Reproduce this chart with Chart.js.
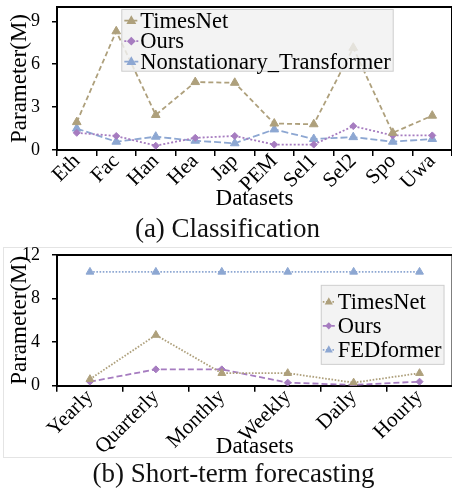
<!DOCTYPE html>
<html>
<head>
<meta charset="utf-8">
<script src="https://cdn.jsdelivr.net/npm/chart.js@4.4.1/dist/chart.umd.min.js"></script>
<style>
  html, body { margin: 0; padding: 0; background: #fff; overflow: hidden; }
  body { width: 452px; height: 495px; position: relative; font-family: 'Liberation Serif', 'Times New Roman', serif; }
  #c1 { position: absolute; left: 0; top: 0; }
  #frame { position: absolute; left: 3px; top: 247px; width: 470px; height: 209px; border: 1px solid #e4e4e4; }
  #c2 { position: absolute; left: 0; top: 244px; }
  .cap { position: absolute; left: 0; width: 455px; text-align: center; font-size: 27px; line-height: 27px; color: #111; white-space: nowrap; }
</style>
</head>
<body>
<canvas id="c1" width="458" height="214"></canvas>
<div class="cap" style="top:215px">(a) Classification</div>
<div id="frame"></div>
<canvas id="c2" width="458" height="218"></canvas>
<div class="cap" style="top:460px; left:6px">(b) Short-term forecasting</div>
<script>
// (a) classification
const catsA = ['Eth', 'Fac', 'Han', 'Hea', 'Jap', 'PEM', 'Sel1', 'Sel2', 'Spo', 'Uwa'];
const timesNetA = [1.95, 8.3, 2.45, 4.75, 4.7, 1.85, 1.8, 7.15, 1.2, 2.4];
const oursA = [1.2, 0.98, 0.3, 0.85, 0.98, 0.38, 0.38, 1.67, 1.02, 1.02];
const nonstatA = [1.5, 0.58, 0.93, 0.65, 0.47, 1.44, 0.77, 0.9, 0.58, 0.77];
const yTicksA = [0, 3, 6, 9];

// (b) short-term forecasting
const catsB = ['Yearly', 'Quarterly', 'Monthly', 'Weekly', 'Daily', 'Hourly'];
const timesNetB = [0.6, 4.65, 1.15, 1.15, 0.28, 1.15];
const oursB = [0.37, 1.5, 1.5, 0.28, 0.07, 0.37];
const fedB = [10.45, 10.45, 10.45, 10.45, 10.45, 10.45];
const yTicksB = [0, 4, 8, 12];

const SERIF = "'Liberation Serif', 'Times New Roman', serif";
const TAN = '#aea07c';
const PURPLE = '#a67cc0';
const BLUE = '#8da7d2';

// top + right edges of the axes box
const frameBox = {
  id: 'frameBox',
  beforeDatasetsDraw(chart) {
    const {ctx, chartArea: a} = chart;
    ctx.save();
    ctx.strokeStyle = '#000';
    ctx.lineWidth = 2;
    ctx.beginPath();
    ctx.moveTo(a.left, a.top);
    ctx.lineTo(a.right, a.top);
    ctx.lineTo(a.right, a.bottom);
    ctx.stroke();
    ctx.restore();
  }
};

function marker(ctx, style, x, y, r) {
  ctx.beginPath();
  if (style === 'triangle') {
    ctx.moveTo(x, y - r);
    ctx.lineTo(x + r * 0.9, y + r * 0.6);
    ctx.lineTo(x - r * 0.9, y + r * 0.6);
  } else {
    ctx.moveTo(x, y - r);
    ctx.lineTo(x + r, y);
    ctx.lineTo(x, y + r);
    ctx.lineTo(x - r, y);
  }
  ctx.closePath();
  ctx.fill();
}

// matplotlib-like legend box drawn over the plot
const boxLegend = {
  id: 'boxLegend',
  afterDatasetsDraw(chart, args, o) {
    const {ctx, chartArea: a} = chart;
    const sets = chart.data.datasets;
    ctx.save();
    ctx.font = o.font + 'px ' + SERIF;
    const tw = Math.max(...sets.map(d => ctx.measureText(d.label).width));
    const w = o.padL + tw + o.padR;
    const h = o.padT + o.rowH * (sets.length - 1) + o.padB;
    const x = o.align === 'right' ? a.right - o.dx - w : (a.left + a.right) / 2 - w / 2 + o.dx;
    const y = o.valign === 'middle' ? (a.top + a.bottom) / 2 - h / 2 + o.dy : a.top + o.dy;
    ctx.fillStyle = 'rgba(240,240,240,0.82)';
    ctx.fillRect(x, y, w, h);
    ctx.strokeStyle = '#cfcfcf';
    ctx.lineWidth = 1;
    ctx.strokeRect(x + 0.5, y + 0.5, w - 1, h - 1);
    sets.forEach((d, i) => {
      const cy = y + o.padT + i * o.rowH;
      ctx.strokeStyle = d.borderColor;
      ctx.lineWidth = d.borderWidth;
      ctx.setLineDash(d.borderDash);
      ctx.beginPath();
      ctx.moveTo(x + o.lineX0, cy);
      ctx.lineTo(x + o.lineX1, cy);
      ctx.stroke();
      ctx.setLineDash([]);
      ctx.fillStyle = d.borderColor;
      marker(ctx, d.pointStyle, x + (o.lineX0 + o.lineX1) / 2, cy, d.pointStyle === 'triangle' ? o.markR : o.markR * 0.8);
      ctx.fillStyle = '#000';
      ctx.textBaseline = 'middle';
      ctx.fillText(d.label, x + o.padL, cy + 1);
    });
    ctx.restore();
  }
};

function series(label, data, color, dash, style, r) {
  return {
    label: label,
    data: data,
    borderColor: color,
    backgroundColor: color,
    borderWidth: 1.8,
    borderDash: dash,
    pointStyle: style,
    pointRadius: r,
    pointBorderWidth: 1,
    pointBackgroundColor: color,
    pointBorderColor: color,
    tension: 0,
    fill: false
  };
}

function makeChart(id, cats, datasets, yMax, yTicks, xHeight, pad, legendOpts) {
  return new Chart(document.getElementById(id), {
    type: 'line',
    data: { labels: cats, datasets: datasets },
    plugins: [frameBox, boxLegend],
    options: {
      responsive: false,
      animation: false,
      devicePixelRatio: 1,
      layout: { padding: pad },
      plugins: {
        legend: { display: false },
        tooltip: { enabled: false },
        boxLegend: legendOpts
      },
      scales: {
        x: {
          type: 'category',
          offset: true,
          grid: { offset: true, drawOnChartArea: false, tickLength: 6, color: '#000', lineWidth: 1.5 },
          border: { color: '#000', width: 2 },
          ticks: { color: '#000', font: { family: SERIF, size: 21 }, minRotation: 45, maxRotation: 45, padding: -7, autoSkip: false },
          title: { display: true, text: 'Datasets', color: '#000', font: { family: SERIF, size: 23 }, padding: { top: 0, bottom: 1 } },
          afterFit(s) { s.height = xHeight; s.paddingLeft = 0; s.paddingRight = 0; }
        },
        y: {
          min: 0,
          max: yMax,
          afterBuildTicks(s) { s.ticks = yTicks.map(v => ({ value: v })); },
          grid: { drawOnChartArea: false, tickLength: 5, color: '#000', lineWidth: 1.5 },
          border: { color: '#000', width: 2 },
          ticks: { color: '#000', font: { family: SERIF, size: 18 }, padding: 12 },
          title: { display: true, text: 'Parameter(M)', color: '#000', font: { family: SERIF, size: 23 }, padding: { top: 6, bottom: 0 } },
          afterFit(s) { s.width = 57; s.paddingTop = 0; s.paddingBottom = 0; }
        }
      }
    }
  });
}

makeChart('c1', catsA, [
  series('TimesNet', timesNetA, TAN, [5, 3], 'triangle', 5),
  series('Ours', oursA, PURPLE, [2, 2], 'rectRot', 3.5),
  series('Nonstationary_Transformer', nonstatA, BLUE, [7, 3], 'triangle', 5)
], 10, yTicksA, 64, { top: 7, left: 0, right: 1, bottom: 0 },
  { font: 22.5, align: 'center', valign: 'top', dx: 3, dy: 2, padL: 19, padR: 3, padT: 11.7, padB: 10, rowH: 20.5, lineX0: 3, lineX1: 17, markR: 5.5 });

makeChart('c2', catsB, [
  series('TimesNet', timesNetB, TAN, [1.6, 1.6], 'triangle', 4.5),
  series('Ours', oursB, PURPLE, [6, 3], 'rectRot', 3.5),
  series('FEDformer', fedB, BLUE, [1.6, 1.6], 'triangle', 4.5)
], 12, yTicksB, 76.3, { top: 11, left: 0, right: 2, bottom: 0 },
  { font: 22.5, align: 'right', valign: 'middle', dx: 8, dy: 4.5, padL: 17, padR: 3, padT: 17, padB: 15, rowH: 24, lineX0: 2, lineX1: 14, markR: 4.5 });
</script>
</body>
</html>
